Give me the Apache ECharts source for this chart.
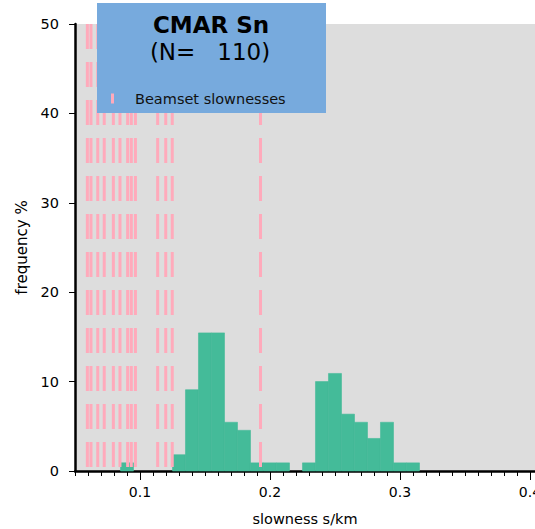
<!DOCTYPE html>
<html>
<head>
<meta charset="utf-8">
<script src="https://cdn.jsdelivr.net/npm/echarts@6/dist/echarts.min.js"></script>
<style>
html,body{margin:0;padding:0;background:#fff;}
#chart{width:535px;height:529px;}
</style>
</head>
<body>
<div id="chart"></div>
<script>
// Histogram bin centres (s/km), bin width 0.01
var binCenters = [0.09,0.10,0.11,0.12,0.13,0.14,0.15,0.16,0.17,0.18,0.19,0.20,0.21,0.22,0.23,0.24,0.25,0.26,0.27,0.28,0.29,0.30,0.31];
// Frequency % per bin
var freqPct = [0.91,0,0,0,1.82,9.09,15.45,15.45,5.45,4.55,0.91,0.91,0.91,0,0.91,10.0,10.91,6.36,5.45,3.64,5.45,0.91,0.91];
var binWidth = 0.01;
// Beamset slownesses (s/km)
var beamSlowness = [0.0595,0.0623,0.0675,0.0725,0.0795,0.0846,0.0905,0.0933,0.0965,0.1136,0.1198,0.1248,0.1927];
var xTickLabels = [0.1,0.2,0.3,0.4];
var yMin = 0, yMax = 50, yStep = 10;
var titleText = 'CMAR Sn';
var subText = '(N=   110)';
var legendName = 'Beamset slownesses';

var FONT = 'DejaVu Sans';
var chart = echarts.init(document.getElementById('chart'), null, {renderer:'svg'});

var barData = binCenters.map(function(c,i){return [c, freqPct[i]];});
var lineData = beamSlowness.map(function(s){return [s];});

var option = {
  backgroundColor:'#ffffff',
  animation:false,
  grid:{left:75,right:0,top:24,bottom:58,show:true,backgroundColor:'#dddddd',borderWidth:0,
    containLabel:false,outerBoundsMode:'none'},
  xAxis:[{
    type:'value', min:0.05, max:0.40385, interval:0.01,
    name:'slowness s/km', nameLocation:'middle', nameGap:40,
    nameTextStyle:{fontFamily:FONT,fontSize:14.5,color:'#000'},
    axisLine:{show:true,onZero:false,lineStyle:{color:'#000',width:2.5}},
    axisTick:{show:true,length:5,lineStyle:{color:'#000',width:1}},
    axisLabel:{show:true,customValues:xTickLabels,margin:14,fontFamily:FONT,fontSize:14,color:'#000',
      formatter:function(v){return v.toFixed(1);}},
    splitLine:{show:false}
  },{
    type:'value', min:0.05, max:0.40385, position:'bottom',
    axisLine:{show:false},
    axisTick:{show:true,customValues:xTickLabels,length:9,lineStyle:{color:'#000',width:1}},
    axisLabel:{show:false},
    splitLine:{show:false}
  }],
  yAxis:{
    type:'value', min:yMin, max:yMax, interval:yStep,
    name:'frequency %', nameLocation:'middle', nameGap:45,
    nameTextStyle:{fontFamily:FONT,fontSize:15,color:'#000'},
    axisLine:{show:true,onZero:false,lineStyle:{color:'#000',width:2.5}},
    axisTick:{show:true,length:6,lineStyle:{color:'#000',width:1}},
    axisLabel:{margin:16,fontFamily:FONT,fontSize:14.5,color:'#000'},
    splitLine:{show:false}
  },
  legend:{
    data:[{name:legendName,icon:'rect'}],
    left:111, top:91, padding:0,
    itemWidth:3, itemHeight:10,
    textStyle:{fontFamily:FONT,fontSize:14.5,color:'#111',padding:[0,0,0,16]},
    z:30
  },
  graphic:[
    {type:'rect',shape:{x:97,y:3,width:229,height:110},style:{fill:'#77aadd'},z:20,silent:true},
    {type:'text',x:211,y:25,z:30,style:{text:titleText,fontFamily:FONT,fontWeight:'bold',fontSize:23,fill:'#000',textAlign:'center',textVerticalAlign:'middle'}},
    {type:'text',x:210,y:52,z:30,style:{text:subText,fontFamily:FONT,fontSize:23,fill:'#000',textAlign:'center',textVerticalAlign:'middle'}}
  ],
  series:[{
    type:'custom', name:'hist', xAxisIndex:0,
    data:barData,
    itemStyle:{color:'#44bb99'},
    renderItem:function(params,api){
      var c = api.value(0), v = api.value(1);
      if(!v) return null;
      var p1 = api.coord([c-binWidth/2, v]);
      var p2 = api.coord([c+binWidth/2, 0]);
      return {type:'rect',shape:{x:p1[0],y:p1[1],width:p2[0]-p1[0],height:p2[1]-p1[1]},
        style:{fill:'#44bb99',stroke:'#44bb99',lineWidth:0.6}};
    },
    z:2
  },{
    type:'custom', name:legendName, xAxisIndex:0,
    data:lineData,
    itemStyle:{color:'#ffaabb'},
    renderItem:function(params,api){
      var s = api.value(0);
      var top = api.coord([s, yMax]);
      var bot = api.coord([s, yMin]);
      return {type:'line',shape:{x1:top[0],y1:top[1],x2:bot[0],y2:bot[1]},
        style:{stroke:'#ffaabb',lineWidth:3,lineDash:[25,13]}};
    },
    z:3
  }]
};
chart.setOption(option);
</script>
</body>
</html>
